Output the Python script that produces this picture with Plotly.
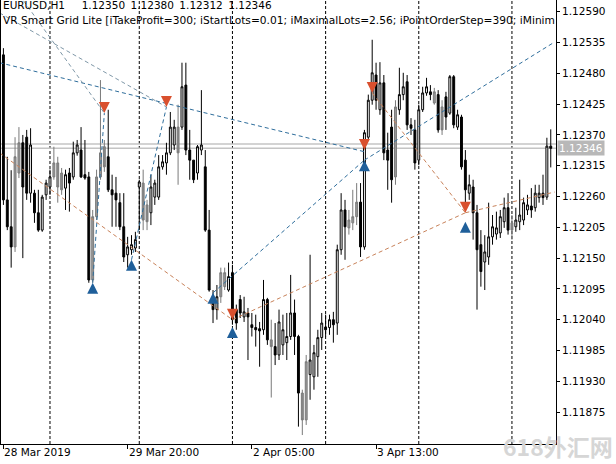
import pandas as pd
import plotly.graph_objects as go

# ---------------- data (EURUSD H1) ----------------
opens = [1.12513,1.12254,1.12206,1.12170,1.12302,1.12356,1.12366,1.12266,1.12266,1.12231,1.12200,1.12263,
         1.12277,1.12295,1.12320,1.12302,1.12275,1.12302,1.12295,1.12338,1.12343,1.12299,1.12295,1.12111,
         1.12224,1.12295,1.12349,1.12331,1.12272,1.12266,1.12249,1.12206,1.12156,1.12165,1.12168,
         1.12277,1.12284,1.12245,1.12231,1.12259,1.12259,1.12313,1.12320,1.12338,1.12352,1.12384,1.12384,
         1.12459,1.12343,1.12325,1.12302,1.12343,1.12313,1.12200,1.12081,1.12058,1.12081,1.12099,1.12093,
         1.12124,1.12058,1.12076,1.12045,1.12052,1.12031,1.12026,1.12024,1.12022,1.12076,1.12004,1.11992,
         1.11977,1.11995,1.11999,1.12010,1.12052,1.12010,1.11909,1.11861,1.11942,1.11938,1.11974,1.12008,
         1.12027,1.12026,1.12040,1.12034,1.12165,1.12236,1.12204,1.12213,1.12224,1.12250,1.12170,1.12366,
         1.12432,1.12477,1.12415,1.12463,1.12343,1.12384,1.12295,1.12415,1.12442,1.12465,1.12388,1.12379,
         1.12325,1.12415,1.12445,1.12447,1.12427,1.12442,1.12420,1.12438,1.12409,1.12474,1.12384,1.12402,
         1.12325,1.12266,1.12277,1.12231,1.12174,1.12143,1.12152,1.12188,1.12193,1.12195,1.12215,1.12240,
         1.12213,1.12206,1.12215,1.12218,1.12236,1.12243,1.12240,1.12258,1.12266,1.12259,1.12350]
highs = [1.12525,1.12331,1.12307,1.12366,1.12384,1.12370,1.12379,1.12382,1.12272,1.12272,1.12263,1.12290,
         1.12308,1.12349,1.12331,1.12311,1.12308,1.12311,1.12358,1.12361,1.12384,1.12361,1.12304,1.12236,
         1.12308,1.12468,1.12361,1.12415,1.12299,1.12295,1.12266,1.12266,1.12188,1.12191,1.12197,
         1.12290,1.12308,1.12254,1.12299,1.12290,1.12334,1.12334,1.12356,1.12411,1.12397,1.12424,1.12499,
         1.12499,1.12379,1.12325,1.12352,1.12450,1.12343,1.12236,1.12093,1.12102,1.12133,1.12133,1.12142,
         1.12138,1.12067,1.12084,1.12081,1.12061,1.12052,1.12049,1.12036,1.12111,1.12079,1.12040,1.12034,
         1.12058,1.12049,1.12052,1.12120,1.12076,1.12013,1.11915,1.11977,1.12156,1.11995,1.12022,1.12052,
         1.12049,1.12049,1.12054,1.12174,1.12266,1.12254,1.12236,1.12272,1.12284,1.12284,1.12379,1.12442,
         1.12540,1.12499,1.12500,1.12477,1.12374,1.12415,1.12432,1.12490,1.12481,1.12477,1.12400,1.12397,
         1.12424,1.12456,1.12472,1.12459,1.12454,1.12450,1.12432,1.12447,1.12477,1.12477,1.12415,1.12406,
         1.12343,1.12299,1.12290,1.12245,1.12200,1.12191,1.12249,1.12227,1.12233,1.12236,1.12258,1.12266,
         1.12227,1.12240,1.12290,1.12258,1.12263,1.12275,1.12281,1.12281,1.12299,1.12365,1.12380]
lows = [1.12245,1.12200,1.12133,1.12161,1.12293,1.12150,1.12254,1.12249,1.12213,1.12197,1.12197,1.12254,
        1.12263,1.12290,1.12249,1.12263,1.12236,1.12233,1.12290,1.12333,1.12293,1.12290,1.12106,1.12106,
        1.12218,1.12290,1.12304,1.12268,1.12206,1.12206,1.12200,1.12143,1.12133,1.12156,1.12161,
        1.12200,1.12200,1.12200,1.12209,1.12245,1.12254,1.12308,1.12299,1.12334,1.12343,1.12281,1.12379,
        1.12334,1.12290,1.12284,1.12290,1.12334,1.12197,1.12090,1.12034,1.12040,1.12070,1.12093,1.12090,
        1.12031,1.12022,1.12043,1.12036,1.11968,1.12010,1.11992,1.11956,1.12013,1.11995,1.11901,1.11959,
        1.11968,1.11977,1.11968,1.12004,1.11977,1.11849,1.11834,1.11852,1.11897,1.11915,1.11938,1.11986,
        1.12010,1.12013,1.11999,1.12013,1.12156,1.12147,1.12192,1.12200,1.12209,1.12152,1.12165,1.12361,
        1.12424,1.12415,1.12406,1.12325,1.12272,1.12249,1.12281,1.12406,1.12432,1.12379,1.12370,1.12308,
        1.12316,1.12411,1.12440,1.12432,1.12424,1.12374,1.12370,1.12379,1.12406,1.12382,1.12379,1.12308,
        1.12236,1.12254,1.12183,1.12058,1.12099,1.12093,1.12138,1.12174,1.12183,1.12186,1.12204,1.12192,
        1.12183,1.12197,1.12200,1.12209,1.12227,1.12222,1.12233,1.12249,1.12245,1.12254,1.12312]
closes = [1.12254,1.12206,1.12170,1.12331,1.12356,1.12277,1.12266,1.12352,1.12231,1.12200,1.12259,1.12284,
          1.12295,1.12320,1.12277,1.12272,1.12299,1.12284,1.12338,1.12352,1.12295,1.12293,1.12111,1.12224,
          1.12295,1.12338,1.12313,1.12272,1.12263,1.12254,1.12206,1.12152,1.12170,1.12174,1.12183,
          1.12286,1.12218,1.12215,1.12277,1.12284,1.12313,1.12322,1.12338,1.12384,1.12384,1.12338,1.12456,
          1.12343,1.12325,1.12290,1.12349,1.12352,1.12200,1.12093,1.12058,1.12081,1.12124,1.12124,1.12117,
          1.12040,1.12034,1.12052,1.12054,1.12045,1.12026,1.12022,1.12020,1.12076,1.12004,1.11992,1.11977,
          1.12036,1.12022,1.12010,1.12052,1.12010,1.11909,1.11861,1.11965,1.11968,1.11981,1.12008,1.12034,
          1.12022,1.12040,1.12031,1.12165,1.12236,1.12206,1.12218,1.12224,1.12250,1.12170,1.12374,1.12432,
          1.12481,1.12432,1.12463,1.12338,1.12325,1.12290,1.12420,1.12442,1.12456,1.12388,1.12382,1.12320,
          1.12415,1.12445,1.12456,1.12442,1.12447,1.12379,1.12379,1.12402,1.12474,1.12388,1.12406,1.12313,
          1.12272,1.12281,1.12231,1.12165,1.12126,1.12161,1.12188,1.12206,1.12204,1.12224,1.12240,1.12200,
          1.12200,1.12218,1.12227,1.12249,1.12245,1.12236,1.12266,1.12266,1.12258,1.12350,1.12346]

# bars drawn greyed-out on the terminal screenshot (bar numbers)
grey_bars = [3, 4, 13, 14, 15, 23, 24, 25, 26, 36, 37, 45, 56, 57, 69, 77, 78,
             89, 90, 91, 101, 111, 113, 131]

# bar times: 28 Mar 2019 12:00 ... 5 Apr 2019 10:00 (H1, Friday session ends 22:00)
sessions = [("2019-03-28 12:00", 12), ("2019-03-29 00:00", 23), ("2019-04-01 00:00", 24),
            ("2019-04-02 00:00", 24), ("2019-04-03 00:00", 24), ("2019-04-04 00:00", 24),
            ("2019-04-05 00:00", 11)]
times = []
for start, n in sessions:
    times += list(pd.date_range(start, periods=n, freq="h"))

tick_times = ["2019-03-28 12:00", "2019-03-29 20:00", "2019-04-02 05:00", "2019-04-03 13:00"]
tick_labels = ["28 Mar 2019", "29 Mar 20:00", "2 Apr 05:00", "3 Apr 13:00"]

# trade arrows (bar time, price)
sell_times = ["2019-03-29 14:00", "2019-04-01 07:00", "2019-04-02 00:00", "2019-04-03 10:00",
              "2019-04-03 12:00", "2019-04-04 12:00"]
sell_prices = [1.12409, 1.12420, 1.12040, 1.12343, 1.12445, 1.12231]
buy_times = ["2019-03-29 11:00", "2019-03-29 21:00", "2019-04-01 19:00", "2019-04-02 00:00",
             "2019-04-03 10:00", "2019-04-04 12:00"]
buy_prices = [1.12106, 1.12147, 1.12088, 1.12027, 1.12325, 1.12215]

# trade history lines (start time, start price, end time, end price)
blue_lines = [
    ("2019-03-28 11:00", 1.12499, "2019-04-03 10:00", 1.12340),
    ("2019-03-29 11:00", 1.12106, "2019-03-29 14:00", 1.12409),
    ("2019-03-29 21:00", 1.12147, "2019-04-01 07:00", 1.12420),
    ("2019-04-01 19:00", 1.12088, "2019-04-03 10:00", 1.12325),
    ("2019-04-03 10:00", 1.12325, "2019-04-05 11:00", 1.12536),
]
gray_lines = [
    ("2019-03-28 13:00", 1.12650, "2019-03-29 14:00", 1.12409),
    ("2019-03-28 11:00", 1.12588, "2019-04-01 07:00", 1.12420),
]
orange_lines = [
    ("2019-03-28 11:00", 1.12338, "2019-04-02 00:00", 1.12040),
    ("2019-04-02 00:00", 1.12040, "2019-04-04 12:00", 1.12231),
    ("2019-04-03 12:00", 1.12445, "2019-04-04 12:00", 1.12231),
    ("2019-04-04 12:00", 1.12231, "2019-04-05 11:00", 1.12268),
]

bid = 1.12346
ask = 1.12354
y_ticks = [1.11875, 1.11930, 1.11985, 1.12040, 1.12095, 1.12150, 1.12205, 1.12260,
           1.12315, 1.12370, 1.12425, 1.12480, 1.12535, 1.12590]

# --------------- helpers: time -> bar index ---------------
idx_of = {t: i for i, t in enumerate(times)}


def bar_pos(ts):
    t = pd.Timestamp(ts)
    if t in idx_of:
        return idx_of[t]
    if t < times[0]:
        return -(times[0] - t) / pd.Timedelta(hours=1)
    return len(times) - 1 + (t - times[-1]) / pd.Timedelta(hours=1)


xs = list(range(len(times)))
FONT = "DejaVu Sans"
NB = "\u00a0"

fig = go.Figure()

# period separators (day boundaries)
for i in range(1, len(times)):
    if times[i].date() != times[i - 1].date():
        fig.add_shape(type="line", xref="x", yref="paper", x0=i, x1=i, y0=0, y1=1,
                      line=dict(color="black", width=1, dash="3px,2px"), layer="below")

# bid / ask lines
for lvl in (ask, bid):
    fig.add_shape(type="line", xref="paper", yref="y", x0=0, x1=1, y0=lvl, y1=lvl,
                  line=dict(color="#c4c4c4", width=1.5), layer="below")


def pick(arr, keep):
    return [v if keep(i) else None for i, v in enumerate(arr)]


grey_set = set(grey_bars)
normal = lambda i: i not in grey_set
grey = lambda i: i in grey_set

fig.add_trace(go.Candlestick(
    x=xs, open=pick(opens, normal), high=pick(highs, normal), low=pick(lows, normal),
    close=pick(closes, normal),
    increasing=dict(line=dict(color="black", width=1), fillcolor="white"),
    decreasing=dict(line=dict(color="black", width=1), fillcolor="black"),
    whiskerwidth=0, hoverinfo="skip", showlegend=False))
fig.add_trace(go.Candlestick(
    x=xs, open=pick(opens, grey), high=pick(highs, grey), low=pick(lows, grey),
    close=pick(closes, grey),
    increasing=dict(line=dict(color="#7a7a7a", width=1), fillcolor="#9a9a9a"),
    decreasing=dict(line=dict(color="#7a7a7a", width=1), fillcolor="#8a8a8a"),
    whiskerwidth=0, hoverinfo="skip", showlegend=False))


def add_lines(lines, color):
    for t0, p0, t1, p1 in lines:
        fig.add_trace(go.Scatter(x=[bar_pos(t0), bar_pos(t1)], y=[p0, p1], mode="lines",
                                 line=dict(color=color, width=1, dash="4px,3px"),
                                 hoverinfo="skip", showlegend=False))


add_lines(blue_lines, "#2f6e9c")
add_lines(gray_lines, "#7f98a8")
add_lines(orange_lines, "#c8825a")

fig.add_trace(go.Scatter(x=[bar_pos(t) for t in sell_times], y=sell_prices, mode="markers",
                         marker=dict(symbol="arrow-down", size=11, color="#d9502e",
                                     line=dict(width=0)),
                         hoverinfo="skip", showlegend=False))
fig.add_trace(go.Scatter(x=[bar_pos(t) for t in buy_times], y=buy_prices, mode="markers",
                         marker=dict(symbol="arrow-up", size=11, color="#1f5f9a",
                                     line=dict(width=0)),
                         hoverinfo="skip", showlegend=False))

tick_pos = [bar_pos(t) for t in tick_times]
for p, lab in zip(tick_pos, tick_labels):
    fig.add_annotation(x=p, xref="x", y=0, yref="paper", yshift=-1, text=lab, showarrow=False,
                       xanchor="left", yanchor="top", borderpad=0,
                       font=dict(family=FONT, size=10.5, color="black"))

header = "EURUSD,H1" + NB * 5 + (" \u2009").join(
    "%.5f" % v for v in (opens[-1], highs[-1], lows[-1], closes[-1]))
fig.add_annotation(x=0, xref="paper", y=1, yref="paper", xshift=1, yshift=2,
                   text=header, showarrow=False, xanchor="left", yanchor="top", borderpad=0,
                   font=dict(family=FONT, size=10.5, color="black"))
fig.add_annotation(x=0, xref="paper", y=1, yref="paper", xshift=1, yshift=-13,
                   text="VR Smart Grid Lite [iTakeProfit=300; iStartLots=0.01; iMaximalLots=2.56; iPointOrderStep=390; iMinim",
                   showarrow=False, xanchor="left", yanchor="top", borderpad=0,
                   font=dict(family=FONT, size=10.65, color="black"))

# current price label
fig.add_annotation(x=1, xref="paper", y=bid, yref="y", text="%.5f" % bid, showarrow=False,
                   xanchor="left", yanchor="middle", xshift=1, bgcolor="#b8b8b8",
                   font=dict(family=FONT, size=10.5, color="white"), borderpad=1)

# watermark (kept fully inside the picture)
fig.add_annotation(x=1, xref="paper", y=0, yref="paper", xshift=58, yshift=-20,
                   text="<b>618外汇网</b>", showarrow=False, xanchor="right", yanchor="bottom",
                   borderpad=0,
                   font=dict(family="Noto Sans CJK SC", size=23, color="#d6d6d6"))

fig.update_layout(
    width=616, height=464,
    margin=dict(l=1, r=60, t=0, b=20, autoexpand=False),
    paper_bgcolor="white", plot_bgcolor="white",
    showlegend=False,
    xaxis=dict(range=[-0.62, 142.35], showgrid=False, zeroline=False, automargin=False,
               rangeslider=dict(visible=False), tickvals=tick_pos, ticktext=["" for _ in tick_pos],
               ticks="outside", ticklen=4, tickcolor="black", showline=True, linecolor="black",
               linewidth=1, fixedrange=True),
    yaxis=dict(range=[1.11818, 1.12611], side="right", showgrid=False, zeroline=False,
               automargin=False,
               tickvals=y_ticks, ticktext=["%.5f" % v for v in y_ticks],
               ticks="outside", ticklen=3, tickcolor="black", showline=True, linecolor="black",
               linewidth=1, mirror=True,
               tickfont=dict(family=FONT, size=10.5, color="black")),
)

fig.write_html("out.html", config={"displayModeBar": False},
               post_script="document.body.style.margin='0px';document.body.style.padding='0px';"
                           "document.body.style.overflow='hidden';")
